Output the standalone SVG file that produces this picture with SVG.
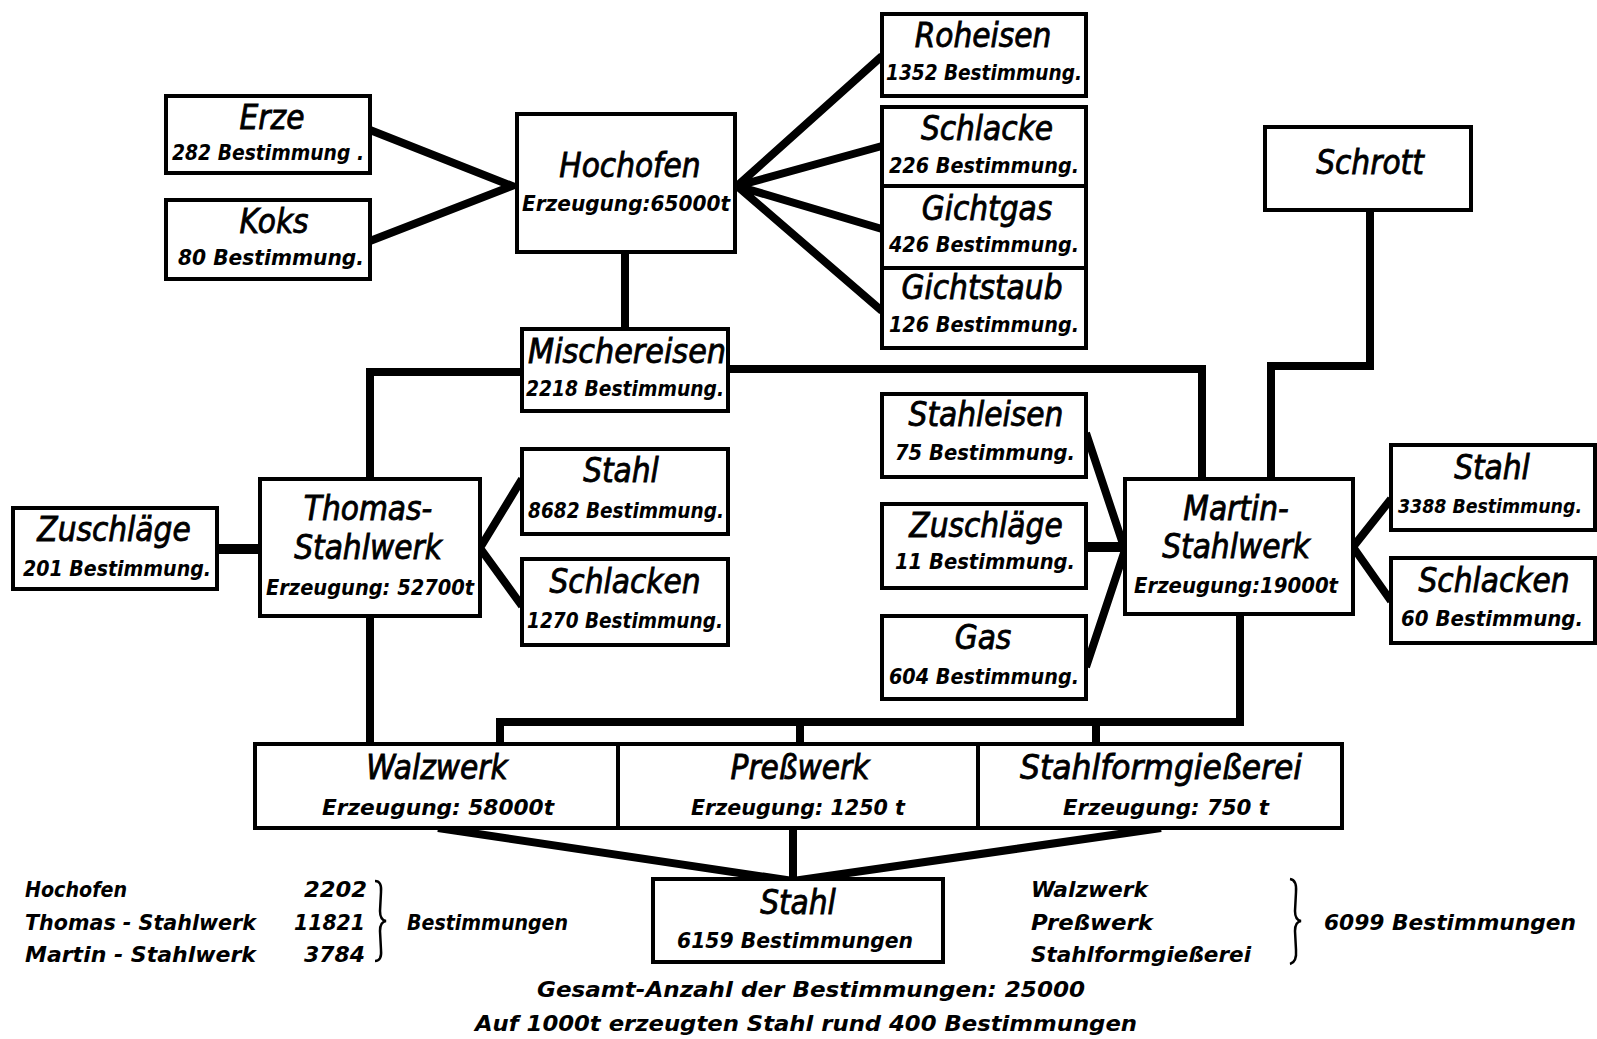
<svg xmlns="http://www.w3.org/2000/svg" width="1597" height="1039" viewBox="0 0 1597 1039">
<style>
.box{fill:#fff;stroke:#000;stroke-width:4}
.c{fill:none;stroke:#000;stroke-width:8;stroke-linejoin:miter;stroke-linecap:butt}
text{font-family:"DejaVu Sans Condensed","DejaVu Sans",sans-serif;font-style:oblique;fill:#000}
.t{font-size:33px;text-anchor:middle;stroke:#000;stroke-width:0.8}
.s{font-size:22px;font-weight:bold;text-anchor:middle}
.e{font-size:22px;font-weight:bold}
.m{font-size:22px;font-weight:bold;text-anchor:middle}
</style>
<rect width="1597" height="1039" fill="#fff"/>
<g id="connectors">
<polyline class="c" points="370,130 512,186 370,241"/>
<polyline class="c" points="882,56 737,186 882,146"/>
<polyline class="c" points="882,229 737,186 882,311"/>
<line class="c" x1="625" y1="252" x2="625" y2="329"/>
<polyline class="c" points="522,372 370,372 370,479"/>
<polyline class="c" points="728,369 1202,369 1202,479"/>
<polyline class="c" points="1370,210 1370,366 1271,366 1271,479"/>
<line class="c" x1="217" y1="549" x2="260" y2="549" style="stroke-width:10"/>
<polyline class="c" points="522,479 480,548 522,606"/>
<polyline class="c" points="1086,433 1125,550 1086,667"/>
<line class="c" x1="1086" y1="547" x2="1125" y2="547" style="stroke-width:10"/>
<polyline class="c" points="1391,499 1353,547 1391,601"/>
<line class="c" x1="370" y1="616" x2="370" y2="744"/>
<polyline class="c" points="1240,614 1240,722 500,722 500,744"/>
<line class="c" x1="800" y1="722" x2="800" y2="744"/>
<line class="c" x1="1096" y1="722" x2="1096" y2="744"/>
<polyline class="c" points="438,828 793,881 1161,828"/>
<line class="c" x1="793" y1="828" x2="793" y2="879"/>
</g>
<g id="erze"><rect class="box" x="166" y="96" width="204" height="77"/>
<text class="t" x="272" y="129">Erze</text>
<text class="s" x="268" y="160" textLength="192" lengthAdjust="spacingAndGlyphs">282 Bestimmung .</text></g>
<g id="koks"><rect class="box" x="166" y="200" width="204" height="79"/>
<text class="t" x="274" y="233">Koks</text>
<text class="s" x="271" y="265" textLength="186" lengthAdjust="spacingAndGlyphs">80 Bestimmung.</text></g>
<g id="hochofen"><rect class="box" x="517" y="114" width="218" height="138"/>
<text class="t" x="630" y="177">Hochofen</text>
<text class="s" x="626" y="211" textLength="208" lengthAdjust="spacingAndGlyphs">Erzeugung:65000t</text></g>
<g id="mischereisen"><rect class="box" x="522" y="329" width="206" height="82"/>
<text class="t" x="627" y="363" textLength="198" lengthAdjust="spacingAndGlyphs">Mischereisen</text>
<text class="s" x="625" y="396" textLength="198" lengthAdjust="spacingAndGlyphs">2218 Bestimmung.</text></g>
<g id="roheisen"><rect class="box" x="882" y="14" width="204" height="82"/>
<text class="t" x="983" y="47">Roheisen</text>
<text class="s" x="984" y="80" textLength="196" lengthAdjust="spacingAndGlyphs">1352 Bestimmung.</text></g>
<g id="schlacke"><rect class="box" x="882" y="107" width="204" height="79"/>
<text class="t" x="987" y="140">Schlacke</text>
<text class="s" x="984" y="173" textLength="190" lengthAdjust="spacingAndGlyphs">226 Bestimmung.</text></g>
<g id="gichtgas"><rect class="box" x="882" y="186" width="204" height="82"/>
<text class="t" x="987" y="220">Gichtgas</text>
<text class="s" x="984" y="252" textLength="190" lengthAdjust="spacingAndGlyphs">426 Bestimmung.</text></g>
<g id="gichtstaub"><rect class="box" x="882" y="268" width="204" height="80"/>
<text class="t" x="982" y="299">Gichtstaub</text>
<text class="s" x="984" y="332" textLength="190" lengthAdjust="spacingAndGlyphs">126 Bestimmung.</text></g>
<g id="schrott"><rect class="box" x="1265" y="127" width="206" height="83"/>
<text class="t" x="1370" y="174">Schrott</text></g>
<g id="stahleisen"><rect class="box" x="882" y="394" width="204" height="83"/>
<text class="t" x="986" y="426">Stahleisen</text>
<text class="s" x="985" y="460" textLength="180" lengthAdjust="spacingAndGlyphs">75 Bestimmung.</text></g>
<g id="zuschlaege-martin"><rect class="box" x="882" y="504" width="204" height="84"/>
<text class="t" x="986" y="537">Zuschläge</text>
<text class="s" x="985" y="569" textLength="180" lengthAdjust="spacingAndGlyphs">11 Bestimmung.</text></g>
<g id="gas"><rect class="box" x="882" y="616" width="204" height="83"/>
<text class="t" x="983" y="649">Gas</text>
<text class="s" x="984" y="684" textLength="190" lengthAdjust="spacingAndGlyphs">604 Bestimmung.</text></g>
<g id="martin"><rect class="box" x="1125" y="479" width="228" height="135"/>
<text class="t" x="1236" y="520">Martin-</text>
<text class="t" x="1236" y="558">Stahlwerk</text>
<text class="s" x="1236" y="593" textLength="204" lengthAdjust="spacingAndGlyphs">Erzeugung:19000t</text></g>
<g id="stahl-martin"><rect class="box" x="1391" y="445" width="204" height="85"/>
<text class="t" x="1492" y="479">Stahl</text>
<text class="s" x="1490" y="513" style="font-size:20px" textLength="184" lengthAdjust="spacingAndGlyphs">3388 Bestimmung.</text></g>
<g id="schlacken-martin"><rect class="box" x="1391" y="558" width="204" height="85"/>
<text class="t" x="1494" y="592">Schlacken</text>
<text class="s" x="1492" y="626" textLength="182" lengthAdjust="spacingAndGlyphs">60 Bestimmung.</text></g>
<g id="thomas"><rect class="box" x="260" y="479" width="220" height="137"/>
<text class="t" x="368" y="520">Thomas-</text>
<text class="t" x="368" y="559">Stahlwerk</text>
<text class="s" x="370" y="595" textLength="208" lengthAdjust="spacingAndGlyphs">Erzeugung: 52700t</text></g>
<g id="zuschlaege-thomas"><rect class="box" x="13" y="508" width="204" height="81"/>
<text class="t" x="114" y="541">Zuschläge</text>
<text class="s" x="117" y="576" textLength="188" lengthAdjust="spacingAndGlyphs">201 Bestimmung.</text></g>
<g id="stahl-thomas"><rect class="box" x="522" y="449" width="206" height="85"/>
<text class="t" x="621" y="482">Stahl</text>
<text class="s" x="626" y="518" textLength="196" lengthAdjust="spacingAndGlyphs">8682 Bestimmung.</text></g>
<g id="schlacken-thomas"><rect class="box" x="522" y="559" width="206" height="86"/>
<text class="t" x="625" y="593">Schlacken</text>
<text class="s" x="625" y="628" textLength="196" lengthAdjust="spacingAndGlyphs">1270 Bestimmung.</text></g>
<g id="walzwerk"><rect class="box" x="255" y="744" width="363" height="84"/>
<text class="t" x="437" y="779">Walzwerk</text>
<text class="s" x="438" y="815" textLength="232" lengthAdjust="spacingAndGlyphs">Erzeugung: 58000t</text></g>
<g id="presswerk"><rect class="box" x="618" y="744" width="360" height="84"/>
<text class="t" x="800" y="779">Preßwerk</text>
<text class="s" x="798" y="815" textLength="214" lengthAdjust="spacingAndGlyphs">Erzeugung: 1250 t</text></g>
<g id="stahlformgiesserei"><rect class="box" x="978" y="744" width="364" height="84"/>
<text class="t" x="1161" y="779" textLength="282" lengthAdjust="spacingAndGlyphs">Stahlformgießerei</text>
<text class="s" x="1166" y="815" textLength="206" lengthAdjust="spacingAndGlyphs">Erzeugung: 750 t</text></g>
<g id="stahl-gesamt"><rect class="box" x="653" y="879" width="290" height="83"/>
<text class="t" x="798" y="914">Stahl</text>
<text class="s" x="795" y="948" textLength="236" lengthAdjust="spacingAndGlyphs">6159 Bestimmungen</text></g>
<g id="summary">
<text class="e" x="25" y="897" textLength="102" lengthAdjust="spacingAndGlyphs">Hochofen</text>
<text class="e" x="25" y="930" textLength="231" lengthAdjust="spacingAndGlyphs">Thomas - Stahlwerk</text>
<text class="e" x="25" y="962" textLength="231" lengthAdjust="spacingAndGlyphs">Martin - Stahlwerk</text>
<text class="e" x="304" y="897" textLength="63" lengthAdjust="spacingAndGlyphs">2202</text>
<text class="e" x="294" y="930" textLength="71" lengthAdjust="spacingAndGlyphs">11821</text>
<text class="e" x="304" y="962" textLength="61" lengthAdjust="spacingAndGlyphs">3784</text>
<path d="M375,881 Q382,881 381,892 L380,911 Q380,920 386,921 Q380,922 380,931 L381,950 Q382,961 375,961" fill="none" stroke="#000" stroke-width="2.5"/>
<text class="e" x="407" y="930" textLength="161" lengthAdjust="spacingAndGlyphs">Bestimmungen</text>
<text class="e" x="1031" y="897" textLength="117" lengthAdjust="spacingAndGlyphs">Walzwerk</text>
<text class="e" x="1031" y="930" textLength="122" lengthAdjust="spacingAndGlyphs">Preßwerk</text>
<text class="e" x="1031" y="962" textLength="220" lengthAdjust="spacingAndGlyphs">Stahlformgießerei</text>
<path d="M1290,879 Q1297,880 1296,892 L1295,911 Q1295,920 1301,921 Q1295,922 1295,931 L1296,950 Q1297,962 1290,964" fill="none" stroke="#000" stroke-width="2.5"/>
<text class="e" x="1324" y="930" textLength="252" lengthAdjust="spacingAndGlyphs">6099 Bestimmungen</text>
<text class="m" x="811" y="997" textLength="548" lengthAdjust="spacingAndGlyphs">Gesamt-Anzahl der Bestimmungen: 25000</text>
<text class="m" x="806" y="1031" textLength="662" lengthAdjust="spacingAndGlyphs">Auf 1000t erzeugten Stahl rund 400 Bestimmungen</text>
</g>
</svg>
